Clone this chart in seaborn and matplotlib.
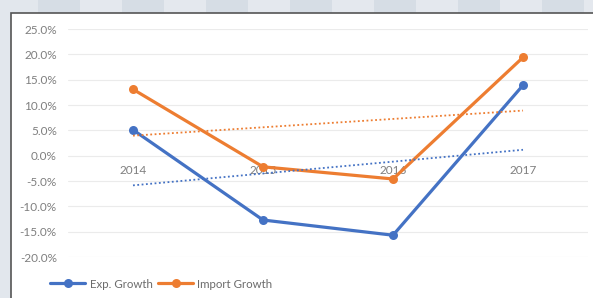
import matplotlib
matplotlib.use("Agg")
import matplotlib.pyplot as plt
import matplotlib.patches as mpatches
import seaborn as sns
import pandas as pd
import numpy as np

years = [2014, 2015, 2016, 2017]
exp_growth = [5.1, -12.7, -15.7, 13.9]
import_growth = [13.1, -2.2, -4.6, 19.4]
series_names = ["Exp. Growth", "Import Growth"]
colors = ["#4472C4", "#ED7D31"]
yticks = [-20, -15, -10, -5, 0, 5, 10, 15, 20, 25]

df = pd.DataFrame({
    "Year": years * 2,
    "Growth": exp_growth + import_growth,
    "Series": [series_names[0]] * 4 + [series_names[1]] * 4,
})

sns.set_theme(style="white")
plt.rcParams["font.family"] = ["Lato", "DejaVu Sans"]

W, H = 593, 298
fig = plt.figure(figsize=(W / 100, H / 100), dpi=100)
fig.patch.set_facecolor("#e2e7ed")

# background stripes on top and chart frame
x0 = 38
i = 0
while x0 < W:
    fig.patches.append(mpatches.Rectangle((x0 / W, 1 - 13 / H), 42 / W, 13 / H,
                                          transform=fig.transFigure,
                                          facecolor="#d6dde5" if i % 2 == 0 else "#e4e8ee",
                                          edgecolor="none", zorder=0))
    x0 += 42
    i += 1
fig.patches.append(mpatches.Rectangle((11 / W, -0.05), 1.1, 1 - 13 / H + 0.05,
                                      transform=fig.transFigure, facecolor="white",
                                      edgecolor="#555555", linewidth=1.2, zorder=1))

ax = fig.add_axes([68 / W, (H - 257) / H, 520 / W, 228 / H])
ax.set_facecolor("none")
ax.set_zorder(2)

sns.lineplot(data=df, x="Year", y="Growth", hue="Series", palette=colors,
             marker="o", markersize=6.5, markeredgewidth=0, linewidth=2.3, ax=ax)

for vals, c in zip([exp_growth, import_growth], colors):
    sns.regplot(x=np.array(years), y=np.array(vals), scatter=False, ci=None, ax=ax,
                line_kws=dict(color=c, linestyle=(0, (1, 1.4)), linewidth=1.3))

handles, labels = ax.get_legend_handles_labels()
ax.get_legend().remove()

ax.set_xlim(2013.5, 2017.5)
ax.set_ylim(-20, 25)
ax.set_yticks(yticks)
ax.set_yticklabels([f"{v:.1f}%" for v in yticks])
ax.set_xticks(years)
ax.set_xticklabels([str(y) for y in years])
ax.set_xlabel("")
ax.set_ylabel("")
ax.grid(axis="y", color="#ebebeb", linewidth=0.8)
ax.set_axisbelow(True)
for s in ["top", "right", "left"]:
    ax.spines[s].set_visible(False)
ax.spines["bottom"].set_position(("data", 0))
ax.spines["bottom"].set_visible(False)
ax.tick_params(axis="y", length=0, pad=8, labelsize=8.5, labelcolor="#7f7f7f")
ax.tick_params(axis="x", length=0, pad=7, labelsize=8.5, labelcolor="#7f7f7f")

fig.legend(handles, labels, loc="center left", bbox_to_anchor=(40 / W, 14 / H),
           ncol=2, frameon=False, fontsize=8.3, handlelength=3.0, handletextpad=0.4,
           columnspacing=0.5, labelcolor="#6b6b6b")

fig.savefig("out.png", dpi=100, facecolor=fig.get_facecolor())
